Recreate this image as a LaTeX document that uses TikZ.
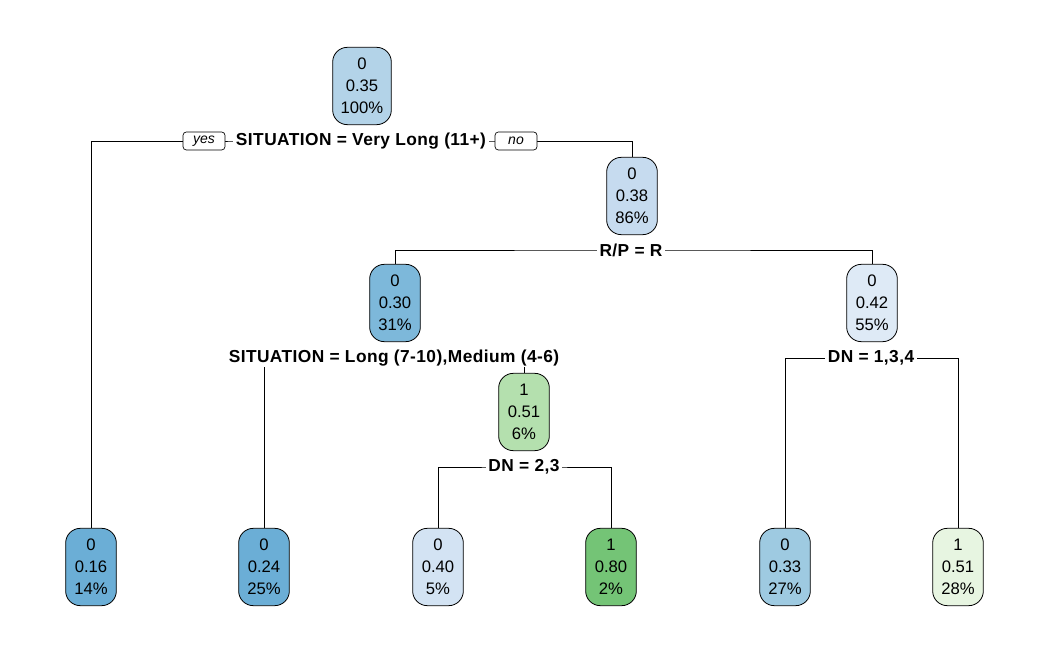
\documentclass[tikz,border=0pt]{standalone}
\usepackage{fontspec}
\setmainfont{Liberation Sans}
\newfontfamily\splitfont{Liberation Sans}[LetterSpace=2.5]
\usetikzlibrary{backgrounds}
\definecolor{cA}{HTML}{B3D3E8}
\definecolor{cB}{HTML}{C6DBEF}
\definecolor{cC}{HTML}{7DB8DA}
\definecolor{cD}{HTML}{DEEAF6}
\definecolor{cE}{HTML}{B4E0AE}
\definecolor{cL1}{HTML}{6BAED6}
\definecolor{cL2}{HTML}{6BAED6}
\definecolor{cL3}{HTML}{D3E3F3}
\definecolor{cL4}{HTML}{74C476}
\definecolor{cL5}{HTML}{9ECAE1}
\definecolor{cL6}{HTML}{E7F5E1}
\tikzset{
  tnode/.style={draw, line width=0.6pt, rounded corners=11pt, minimum height=58pt,
    minimum width=38pt, inner xsep=6pt, inner ysep=0pt, align=center,
    font=\fontsize{12.5}{16.5}\selectfont},
  splitlab/.style={fill=white, inner xsep=2pt, inner ysep=1pt,
    font=\splitfont\bfseries\fontsize{13}{15}\selectfont},
  yn/.style={draw, fill=white, line width=0.5pt, rounded corners=2.5pt,
    font=\itshape\fontsize{10.5}{12}\selectfont, inner xsep=3pt, inner ysep=0pt,
    minimum height=13.5pt, minimum width=31.5pt},
  conn/.style={line width=0.6pt}
}
\begin{document}
\begin{tikzpicture}[x=0.75pt,y=-0.75pt]
\useasboundingbox (0,0) rectangle (1050,648);
% inner nodes
\node[tnode, fill=cA] (root) at (362,86) {0\\0.35\\100\%};
\node[tnode, fill=cB] (n2) at (632,196) {0\\0.38\\86\%};
\node[tnode, fill=cC] (n3) at (395,303) {0\\0.30\\31\%};
\node[tnode, fill=cD] (n4) at (872,303) {0\\0.42\\55\%};
\node[tnode, fill=cE] (n5) at (524,412) {1\\0.51\\6\%};
% leaves
\node[tnode, fill=cL1] (l1) at (91,567) {0\\0.16\\14\%};
\node[tnode, fill=cL2] (l2) at (264,567) {0\\0.24\\25\%};
\node[tnode, fill=cL3] (l3) at (438,567) {0\\0.40\\5\%};
\node[tnode, fill=cL4] (l4) at (611,567) {1\\0.80\\2\%};
\node[tnode, fill=cL5] (l5) at (785,567) {0\\0.33\\27\%};
\node[tnode, fill=cL6] (l6) at (958,567) {1\\0.51\\28\%};
% split labels
\node[splitlab] (s1) at (361,141) {SITUATION = Very Long (11+)};
\node[yn] (yes) at (204,141) {yes};
\node[yn] (no) at (516,141) {no};
\node[splitlab] (s2) at (631,250) {R/P = R};
\node[splitlab] (s3) at (394,358) {SITUATION = Long (7-10),Medium (4-6)};
\node[splitlab] (s4) at (524,467) {DN = 2,3};
\node[splitlab] (s5) at (871,358) {DN = 1,3,4};
% connectors
\begin{scope}[on background layer]
\draw[conn] (l1.north) |- (s1.center) -| (n2.north);
\draw[conn] (n3.north) |- (s2.center) -| (n4.north);
\draw[conn] (l2.north) |- (s3.center) -| (n5.north);
\draw[conn] (l3.north) |- (s4.center) -| (l4.north);
\draw[conn] (l5.north) |- (s5.center) -| (l6.north);
\end{scope}
\end{tikzpicture}
\end{document}
